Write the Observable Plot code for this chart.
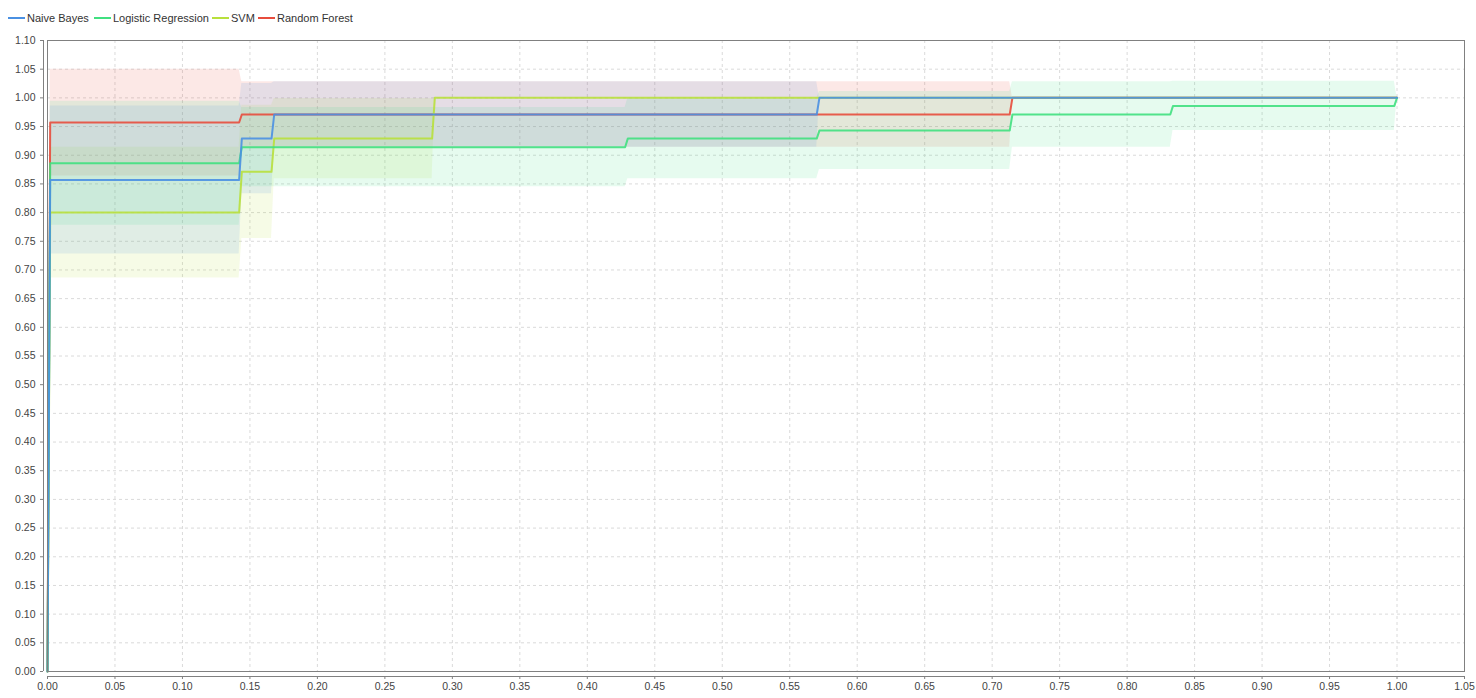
<!DOCTYPE html>
<html>
<head>
<meta charset="utf-8">
<script src="https://cdn.jsdelivr.net/npm/d3@7"></script>
<script src="https://cdn.jsdelivr.net/npm/@observablehq/plot@0.6"></script>
<style>
  body { margin: 0; background: #fff; font-family: "Liberation Sans", Arial, sans-serif; }
  #legend { height: 30px; position: relative; font-size: 11px; color: #333; }
  #legend .item { position: absolute; top: 12px; display: flex; align-items: center; height: 12px; }
  #legend .sw { width: 17px; height: 2px; margin-right: 2px; }
  svg text { font-family: "Liberation Sans", Arial, sans-serif; }
</style>
</head>
<body>
<div id="legend"></div>
<div id="chart"></div>
<script>
// ---- data ----
const seriesNames = ["Naive Bayes", "Logistic Regression", "SVM", "Random Forest"];
const seriesColors = ["#4a90e2", "#40e080", "#b8e03c", "#e74c3c"];

const nbX    = [0, 0.002, 0.142, 0.144, 0.166, 0.168, 0.570, 0.572, 1.0];
const nbMean = [0, 0.857, 0.857, 0.929, 0.929, 0.971, 0.971, 1.0, 1.0];
const nbLow  = [0, 0.728, 0.728, 0.833, 0.833, 0.914, 0.914, 1.0, 1.0];
const nbHigh = [0, 0.986, 0.986, 1.025, 1.025, 1.028, 1.028, 1.0, 1.0];

const lrX    = [0, 0.002, 0.142, 0.144, 0.428, 0.430, 0.570, 0.572, 0.713, 0.715, 0.832, 0.834, 0.998, 1.0];
const lrMean = [0, 0.886, 0.886, 0.914, 0.914, 0.929, 0.929, 0.943, 0.943, 0.971, 0.971, 0.986, 0.986, 1.0];
const lrLow  = [0, 0.778, 0.778, 0.845, 0.845, 0.859, 0.859, 0.875, 0.875, 0.914, 0.914, 0.943, 0.943, 1.0];
const lrHigh = [0, 0.994, 0.994, 0.983, 0.983, 0.999, 0.999, 1.011, 1.011, 1.028, 1.028, 1.029, 1.029, 1.0];

const svmX    = [0, 0.002, 0.142, 0.144, 0.166, 0.168, 0.285, 0.287, 1.0];
const svmMean = [0, 0.800, 0.800, 0.871, 0.871, 0.929, 0.929, 1.0, 1.0];
const svmLow  = [0, 0.686, 0.686, 0.755, 0.755, 0.859, 0.859, 1.0, 1.0];
const svmHigh = [0, 0.914, 0.914, 0.987, 0.987, 0.999, 0.999, 1.0, 1.0];

const rfX    = [0, 0.002, 0.142, 0.144, 0.713, 0.715, 1.0];
const rfMean = [0, 0.957, 0.957, 0.971, 0.971, 1.0, 1.0];
const rfLow  = [0, 0.864, 0.864, 0.914, 0.914, 1.0, 1.0];
const rfHigh = [0, 1.050, 1.050, 1.028, 1.028, 1.0, 1.0];

const xTicks = [0, 0.05, 0.10, 0.15, 0.20, 0.25, 0.30, 0.35, 0.40, 0.45, 0.50, 0.55, 0.60, 0.65, 0.70, 0.75, 0.80, 0.85, 0.90, 0.95, 1.00, 1.05];
const yTicks = [0, 0.05, 0.10, 0.15, 0.20, 0.25, 0.30, 0.35, 0.40, 0.45, 0.50, 0.55, 0.60, 0.65, 0.70, 0.75, 0.80, 0.85, 0.90, 0.95, 1.00, 1.05, 1.10];

// ---- build tables ----
function rows(name, xs, m, lo, hi) {
  return xs.map((x, i) => ({series: name, x, mean: m[i], low: lo[i], high: hi[i]}));
}
const tables = {
  "Naive Bayes": rows("Naive Bayes", nbX, nbMean, nbLow, nbHigh),
  "Logistic Regression": rows("Logistic Regression", lrX, lrMean, lrLow, lrHigh),
  "SVM": rows("SVM", svmX, svmMean, svmLow, svmHigh),
  "Random Forest": rows("Random Forest", rfX, rfMean, rfLow, rfHigh)
};
const colorOf = Object.fromEntries(seriesNames.map((n, i) => [n, seriesColors[i]]));
const drawOrder = [...seriesNames].reverse();

// ---- legend ----
const legend = document.getElementById("legend");
const legendLeft = [8, 94, 212, 258];
seriesNames.forEach((n, i) => {
  const it = document.createElement("div");
  it.className = "item";
  it.style.left = legendLeft[i] + "px";
  it.innerHTML = `<span class="sw" style="background:${seriesColors[i]}"></span><span>${n}</span>`;
  legend.appendChild(it);
});

// ---- chart ----
const marks = [
  Plot.gridX(xTicks, {stroke: "#dadada", strokeOpacity: 1, strokeDasharray: "3,3"}),
  Plot.gridY(yTicks, {stroke: "#dadada", strokeOpacity: 1, strokeDasharray: "3,3"}),
];
for (const n of drawOrder) {
  marks.push(Plot.areaY(tables[n], {x: "x", y1: "low", y2: "high", fill: colorOf[n], fillOpacity: 0.13}));
}
for (const n of drawOrder) {
  marks.push(Plot.line(tables[n], {x: "x", y: "mean", stroke: colorOf[n], strokeWidth: 2, strokeOpacity: 0.9}));
}
marks.push(
  Plot.frame({stroke: "#808080"}),
  Plot.ruleY([0], {dy: 5, stroke: "#808080"}),
  Plot.ruleX([0], {dx: -4, stroke: "#808080"}),
  Plot.axisX(xTicks, {dy: 5, tickSize: 3, tickPadding: 3, tickFormat: d3.format(".2f"), stroke: "#808080", fill: "#444", fontSize: 10.5, label: null}),
  Plot.axisY(yTicks, {dx: -4, tickSize: 3, tickPadding: 5, tickFormat: d3.format(".2f"), stroke: "#808080", fill: "#444", fontSize: 10.5, label: null})
);

const chart = Plot.plot({
  width: 1476,
  height: 668,
  marginTop: 10,
  marginBottom: 27,
  marginLeft: 47,
  marginRight: 12,
  x: {domain: [0, 1.05], label: null},
  y: {domain: [0, 1.10], label: null},
  style: {background: "#fff", fontFamily: "'Liberation Sans', Arial, sans-serif", overflow: "visible"},
  marks
});
document.getElementById("chart").appendChild(chart);
</script>
</body>
</html>
